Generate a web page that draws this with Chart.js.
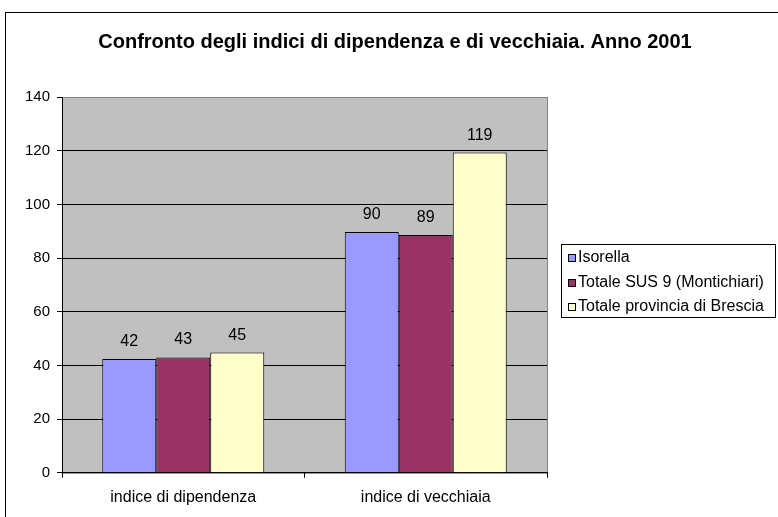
<!DOCTYPE html>
<html lang="it">
<head>
    <meta charset="UTF-8">
    <title>Confronto degli indici di dipendenza e di vecchiaia. Anno 2001</title>
    <script src="https://cdn.jsdelivr.net/npm/chart.js"></script>
    <style>
        html, body { margin: 0; padding: 0; background: #fff; }
        canvas { display: block; }
    </style>
</head>
<body>
    <canvas id="myChart" width="778" height="517"></canvas>

    <script>
        const titleText = 'Confronto degli indici di dipendenza e di vecchiaia. Anno 2001';
        const categories = ['indice di dipendenza', 'indice di vecchiaia'];
        const seriesNames = ['Isorella', 'Totale SUS 9 (Montichiari)', 'Totale provincia di Brescia'];
        const isorella = [42.4, 89.7];
        const totaleSus9 = [43.0, 88.6];
        const totaleBrescia = [44.8, 119.3];
        const yTicks = [0, 20, 40, 60, 80, 100, 120, 140];

        const colors = ['#9999FF', '#993366', '#FFFFCC'];
        const font = 'Liberation Sans, Arial, sans-serif';

        // gray plot area, outer frame, title, value labels and boxed legend
        const excelLook = {
            id: 'excelLook',
            beforeDraw(chart) {
                const ctx = chart.ctx;
                const a = chart.chartArea;
                ctx.save();
                ctx.fillStyle = '#fff';
                ctx.fillRect(0, 0, chart.width, chart.height);
                ctx.strokeStyle = '#000';
                ctx.lineWidth = 1;
                ctx.strokeRect(5.5, 12.5, chart.width + 20, chart.height + 20);
                ctx.fillStyle = '#C0C0C0';
                ctx.fillRect(a.left, a.top, a.right - a.left, a.bottom - a.top);
                ctx.strokeStyle = '#808080';
                ctx.strokeRect(a.left + 0.5, a.top + 0.5, a.right - a.left, a.bottom - a.top);

                ctx.fillStyle = '#000';
                ctx.font = 'bold 20px ' + font;
                ctx.textAlign = 'center';
                ctx.textBaseline = 'alphabetic';
                ctx.fillText(titleText, 395, 48);
                ctx.restore();
            },
            afterDatasetsDraw(chart) {
                const ctx = chart.ctx;
                ctx.save();
                ctx.fillStyle = '#000';
                ctx.font = '16px ' + font;
                ctx.textAlign = 'center';
                ctx.textBaseline = 'alphabetic';
                chart.data.datasets.forEach((ds, i) => {
                    chart.getDatasetMeta(i).data.forEach((bar, j) => {
                        ctx.fillText(Math.round(ds.data[j]), bar.x, bar.y - 13);
                    });
                });

                // legend
                ctx.strokeStyle = '#000';
                ctx.lineWidth = 1;
                ctx.strokeRect(561.5, 244.5, 214, 73);
                ctx.textAlign = 'left';
                ctx.textBaseline = 'middle';
                chart.data.datasets.forEach((ds, i) => {
                    const y = 258 + i * 24.5;
                    ctx.fillStyle = ds.backgroundColor;
                    ctx.fillRect(568, Math.round(y) - 4, 8, 8);
                    ctx.strokeRect(568.5, Math.round(y) - 3.5, 7, 7);
                    ctx.fillStyle = '#000';
                    ctx.fillText(ds.label, 578, y);
                });
                ctx.restore();
            }
        };

        const ctx = document.getElementById('myChart').getContext('2d');
        const chart = new Chart(ctx, {
            type: 'bar',
            data: {
                labels: categories,
                datasets: [isorella, totaleSus9, totaleBrescia].map((vals, i) => ({
                    label: seriesNames[i],
                    data: vals,
                    backgroundColor: colors[i],
                    borderColor: '#000',
                    borderWidth: 1,
                    borderSkipped: 'bottom',
                    categoryPercentage: 0.668,
                    barPercentage: 1
                }))
            },
            options: {
                responsive: false,
                animation: false,
                layout: {
                    padding: { left: 0, top: 97, right: 231, bottom: 0 }
                },
                plugins: {
                    legend: { display: false },
                    title: { display: false },
                    tooltip: { enabled: false }
                },
                scales: {
                    x: {
                        grid: {
                            offset: true,
                            drawOnChartArea: false,
                            drawTicks: true,
                            tickLength: 5,
                            color: '#000'
                        },
                        border: { color: '#000', width: 1 },
                        ticks: {
                            color: '#000',
                            padding: 10,
                            font: { family: font, size: 16 }
                        }
                    },
                    y: {
                        min: 0,
                        max: 140,
                        afterFit(scale) { scale.width = 62; },
                        afterBuildTicks(scale) {
                            scale.ticks = yTicks.map(v => ({ value: v }));
                        },
                        grid: {
                            color: ctx => ctx.tick && ctx.tick.value === 140 ? '#808080' : '#000',
                            tickColor: '#000',
                            tickLength: 5,
                            lineWidth: 1
                        },
                        border: { color: '#000', width: 1 },
                        ticks: {
                            color: '#000',
                            padding: 7,
                            font: { family: font, size: 15 }
                        }
                    }
                }
            },
            plugins: [excelLook]
        });
    </script>
</body>
</html>
